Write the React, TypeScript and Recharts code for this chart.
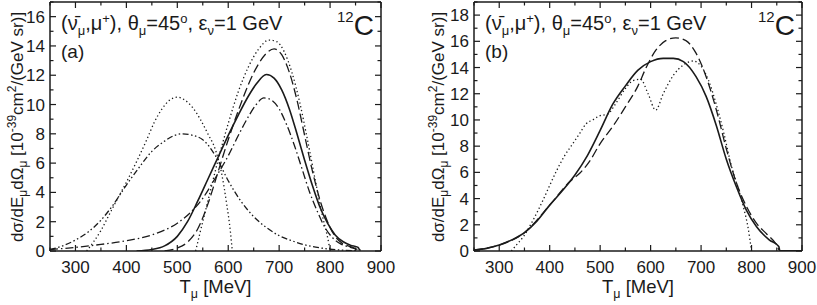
import React from 'react';
import { LineChart, Line, XAxis, YAxis } from 'recharts';

type Pt = [number, number];

// T_mu [MeV] ticks (minor every 50, labelled every 100)
const xTicks = [250, 300, 350, 400, 450, 500, 550, 600, 650, 700, 750, 800, 850, 900];
const yTicksA = [0, 1, 2, 3, 4, 5, 6, 7, 8, 9, 10, 11, 12, 13, 14, 15, 16, 17];
const yTicksB = [0, 1, 2, 3, 4, 5, 6, 7, 8, 9, 10, 11, 12, 13, 14, 15, 16, 17, 18, 19];

// panel (a)
const aSolid: Pt[] = [[420, 0], [450, 0.1], [475, 0.35], [500, 1.0], [520, 2.0], [540, 3.4], [560, 4.9], [580, 6.4], [600, 7.9], [620, 9.3], [640, 10.6], [655, 11.4], [675, 12.05], [690, 11.8], [705, 11.0], [720, 9.7], [735, 8.0], [750, 6.2], [765, 4.5], [780, 3.0], [795, 1.9], [810, 1.1], [825, 0.65], [840, 0.4], [855, 0.25], [858, 0.05]];
const aDashed: Pt[] = [[475, 0], [500, 0.2], [520, 0.6], [540, 1.5], [560, 3.2], [580, 5.4], [600, 7.6], [620, 9.6], [640, 11.4], [660, 12.8], [675, 13.5], [690, 13.8], [705, 13.4], [720, 12.2], [735, 10.3], [750, 7.9], [765, 5.5], [780, 3.5], [795, 2.0], [810, 1.0], [825, 0.5], [840, 0.3], [855, 0.12], [860, 0.05]];
const aDashDot: Pt[] = [[250, 0.1], [300, 0.25], [350, 0.45], [400, 0.7], [450, 1.1], [500, 1.9], [525, 2.6], [550, 3.6], [575, 5.0], [600, 6.5], [620, 7.9], [640, 9.2], [655, 10.0], [670, 10.45], [685, 10.3], [700, 9.7], [715, 8.6], [730, 7.2], [745, 5.6], [760, 4.0], [775, 2.7], [790, 1.6], [805, 0.9], [820, 0.5], [835, 0.3], [850, 0.15], [860, 0.05]];
const aDashDotDot: Pt[] = [[250, 0.1], [275, 0.35], [300, 0.75], [325, 1.3], [350, 2.1], [375, 3.2], [400, 4.5], [425, 5.7], [450, 6.8], [475, 7.5], [495, 7.9], [510, 8.0], [530, 7.9], [550, 7.6], [575, 6.5], [600, 4.8], [625, 3.4], [650, 2.35], [675, 1.6], [700, 1.05], [725, 0.7], [750, 0.42], [775, 0.25], [800, 0.12], [825, 0.06], [850, 0.02]];
const aDotQE: Pt[] = [[536, 0], [545, 1.3], [560, 3.4], [580, 6.2], [600, 8.7], [620, 10.9], [640, 12.6], [660, 13.8], [680, 14.4], [695, 14.3], [710, 13.6], [725, 12.2], [740, 10.2], [755, 7.7], [770, 5.0], [785, 2.4], [797, 0.6], [800, 0]];
const aDotDelta: Pt[] = [[322, 0], [335, 0.6], [350, 1.4], [365, 2.4], [380, 3.4], [400, 4.7], [420, 6.1], [440, 7.6], [455, 8.8], [470, 9.7], [485, 10.3], [500, 10.5], [515, 10.3], [530, 9.8], [545, 9.0], [560, 8.0], [575, 6.9], [587, 5.3], [597, 3.2], [604, 1.4], [608, 0]];

// panel (b)
const bSolid: Pt[] = [[250, 0.08], [275, 0.2], [300, 0.45], [325, 0.85], [350, 1.4], [375, 2.3], [400, 3.5], [425, 4.6], [450, 5.8], [475, 7.3], [500, 9.2], [525, 11.2], [550, 12.6], [575, 13.8], [600, 14.45], [625, 14.7], [645, 14.7], [665, 14.45], [690, 13.3], [710, 11.8], [730, 9.6], [750, 7.0], [770, 4.9], [790, 3.1], [810, 1.85], [835, 0.85], [854, 0.35], [856, 0.03], [900, 0.02]];
const bDashed: Pt[] = [[250, 0.08], [300, 0.45], [350, 1.4], [400, 3.5], [440, 5.3], [460, 5.95], [480, 6.9], [500, 8.2], [525, 9.5], [550, 11.0], [575, 12.6], [590, 13.9], [610, 15.3], [630, 16.05], [650, 16.27], [670, 16.05], [690, 15.1], [710, 13.3], [730, 10.8], [750, 7.8], [770, 5.2], [790, 3.4], [810, 2.1], [830, 1.3], [850, 0.45], [856, 0.03], [900, 0.02]];
const bDotted: Pt[] = [[324, 0], [335, 0.5], [348, 1.1], [367, 2.35], [387, 3.9], [400, 5.0], [414, 6.15], [430, 7.3], [446, 8.2], [460, 9.0], [472, 9.7], [485, 10.0], [498, 10.3], [515, 10.45], [530, 11.2], [550, 12.4], [565, 13.0], [580, 13.1], [595, 12.0], [610, 10.75], [625, 12.0], [645, 13.4], [665, 14.2], [685, 14.5], [700, 14.1], [715, 13.0], [730, 11.2], [745, 9.0], [760, 6.5], [775, 4.6], [785, 3.2], [793, 1.8], [800, 0]];

const INK = '#1a1a1a';
const FONT = '"Liberation Sans", Arial, Helvetica, sans-serif';

const STYLES: Record<string, { dash?: string; w: number }> = {
  solid: { w: 1.6 },
  dashed: { dash: '9 4', w: 1.3 },
  dashDot: { dash: '8 3 1.5 3', w: 1.3 },
  dashDotDot: { dash: '6 2.5 1.5 2.5 1.5 2.5', w: 1.3 },
  dotted: { dash: '1.3 2.6', w: 1.3 },
};

const toRows = (pts: Pt[]) => pts.map(([t, v]) => ({ t, v }));

interface PanelProps {
  left: number; // chart position on page
  width: number;
  L: number; // plot edges, page coords
  R: number;
  yMax: number;
  yTicks: number[];
  series: { pts: Pt[]; style: string }[];
}

const TOP = 2;
const BOTTOM = 251;
const H = 305;
const XH = 30; // bottom axis height
const YW = 40; // left axis width

const Panel: React.FC<PanelProps> = ({ left, width, L, R, yMax, yTicks, series }) => {
  const l = L - left;
  const r = R - left;

  const bottomTick = (p: any) => {
    const v = p.payload.value;
    const major = v % 100 === 0;
    return (
      <g>
        <line x1={p.x} x2={p.x} y1={BOTTOM} y2={BOTTOM - (major ? 6 : 3.5)} stroke={INK} strokeWidth={1.2} />
        {major && (
          <text x={p.x} y={BOTTOM + 22} textAnchor="middle" fontSize={17} fontFamily={FONT} fill={INK}>
            {v}
          </text>
        )}
      </g>
    );
  };
  const topTick = (p: any) => {
    const major = p.payload.value % 100 === 0;
    return <line x1={p.x} x2={p.x} y1={TOP} y2={TOP + (major ? 6 : 3.5)} stroke={INK} strokeWidth={1.2} />;
  };
  const leftTick = (p: any) => {
    const v = p.payload.value;
    const major = v % 2 === 0;
    return (
      <g>
        <line x1={l} x2={l + (major ? 6 : 3.5)} y1={p.y} y2={p.y} stroke={INK} strokeWidth={1.2} />
        {major && (
          <text x={l - 5} y={p.y + 6} textAnchor="end" fontSize={17} fontFamily={FONT} fill={INK}>
            {v}
          </text>
        )}
      </g>
    );
  };
  const rightTick = (p: any) => {
    const major = p.payload.value % 2 === 0;
    return <line x1={r} x2={r - (major ? 6 : 3.5)} y1={p.y} y2={p.y} stroke={INK} strokeWidth={1.2} />;
  };

  return (
    <div style={{ position: 'absolute', left, top: 0 }}>
      <LineChart width={width} height={H}
        margin={{ top: TOP - 1, right: width - r - 1, bottom: H - BOTTOM - XH, left: l - YW }}>
        <XAxis xAxisId="x" type="number" dataKey="t" domain={[250, 900]} ticks={xTicks} interval={0}
          allowDataOverflow height={XH} tickLine={false} tick={bottomTick} axisLine={{ stroke: INK, strokeWidth: 1.5 }} />
        <XAxis xAxisId="xt" orientation="top" type="number" dataKey="t" domain={[250, 900]} ticks={xTicks} interval={0}
          allowDataOverflow height={1} tickLine={false} tick={topTick} axisLine={{ stroke: INK, strokeWidth: 1.5 }} />
        <YAxis yAxisId="y" type="number" domain={[0, yMax]} ticks={yTicks} interval={0}
          allowDataOverflow width={YW} tickLine={false} tick={leftTick} axisLine={{ stroke: INK, strokeWidth: 1.5 }} />
        <YAxis yAxisId="yr" orientation="right" type="number" domain={[0, yMax]} ticks={yTicks} interval={0}
          allowDataOverflow width={1} tickLine={false} tick={rightTick} axisLine={{ stroke: INK, strokeWidth: 1.5 }} />
        {series.map((s, i) => (
          <Line key={i} xAxisId="x" yAxisId="y" data={toRows(s.pts)} dataKey="v" type="monotone"
            stroke={INK} strokeWidth={STYLES[s.style].w} strokeDasharray={STYLES[s.style].dash}
            dot={false} activeDot={false} isAnimationActive={false} />
        ))}
      </LineChart>
    </div>
  );
};

const Annotations: React.FC<{ L: number; R: number; tag: string; yTitleX: number }> = ({ L, R, tag, yTitleX }) => (
  <g fontFamily={FONT} fill={INK}>
    <text transform={`translate(${yTitleX},127) rotate(-90)`} textAnchor="middle" fontSize={17}>
      dσ/dE
      <tspan fontSize={12} dy={4}>μ</tspan>
      <tspan dy={-4}>dΩ</tspan>
      <tspan fontSize={12} dy={4}>μ</tspan>
      <tspan dy={-4}> [10</tspan>
      <tspan fontSize={12} dy={-7}>-39</tspan>
      <tspan dy={7}>cm</tspan>
      <tspan fontSize={12} dy={-7}>2</tspan>
      <tspan dy={7}>/(GeV sr)]</tspan>
    </text>
    <text x={(L + R) / 2} y={293} textAnchor="middle" fontSize={18.5}>
      T<tspan fontSize={12.5} dy={5}>μ</tspan>
      <tspan dy={-5}> [MeV]</tspan>
    </text>
    <text x={L + 11} y={30} fontSize={20}>
      (ν̄
      <tspan fontSize={13} dy={5}>μ</tspan>
      <tspan dy={-5}>,μ</tspan>
      <tspan fontSize={13} dy={-7}>+</tspan>
      <tspan dy={7}>), θ</tspan>
      <tspan fontSize={13} dy={5}>μ</tspan>
      <tspan dy={-5}>=45</tspan>
      <tspan fontSize={13} dy={-7}>o</tspan>
      <tspan dy={7}>, ε</tspan>
      <tspan fontSize={13} dy={5}>ν</tspan>
      <tspan dy={-5}>=1 GeV</tspan>
    </text>
    <text x={L + 11} y={58} fontSize={19}>{tag}</text>
    <text x={R - 44} y={35} fontSize={28}>
      <tspan fontSize={15} dy={-13}>12</tspan>
      <tspan dy={13}>C</tspan>
    </text>
  </g>
);

export default function App() {
  return (
    <div style={{ position: 'absolute', left: 0, top: 0, width: 817, height: 305, background: '#fff' }}>
      <Panel left={0} width={410} L={50} R={381} yMax={17} yTicks={yTicksA}
        series={[
          { pts: aDotDelta, style: 'dotted' },
          { pts: aDotQE, style: 'dotted' },
          { pts: aDashDotDot, style: 'dashDotDot' },
          { pts: aDashDot, style: 'dashDot' },
          { pts: aDashed, style: 'dashed' },
          { pts: aSolid, style: 'solid' },
        ]} />
      <Panel left={410} width={407} L={474} R={802} yMax={19} yTicks={yTicksB}
        series={[
          { pts: bDotted, style: 'dotted' },
          { pts: bDashed, style: 'dashed' },
          { pts: bSolid, style: 'solid' },
        ]} />
      <svg width={817} height={305} style={{ position: 'absolute', left: 0, top: 0, pointerEvents: 'none' }}>
        <Annotations L={50} R={381} tag="(a)" yTitleX={23} />
        <Annotations L={474} R={802} tag="(b)" yTitleX={444} />
      </svg>
    </div>
  );
}
